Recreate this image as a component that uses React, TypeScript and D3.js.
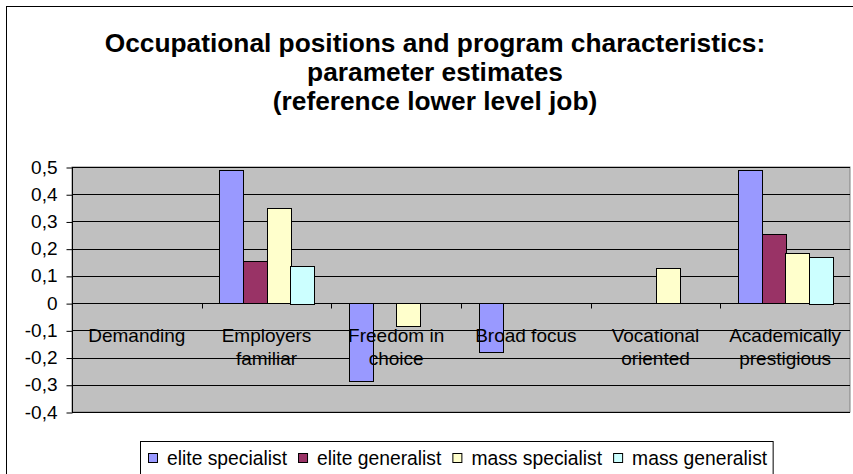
import React, { useEffect, useRef } from 'react'
import * as d3 from 'd3'

const titleLines = [
  'Occupational positions and program characteristics:',
  'parameter estimates',
  '(reference lower level job)',
]

// category labels, "\n" marks where the axis label wraps
const categories = [
  'Demanding',
  'Employers\nfamiliar',
  'Freedom in\nchoice',
  'Broad focus',
  'Vocational\noriented',
  'Academically\nprestigious',
]

const seriesNames = ['elite specialist', 'elite generalist', 'mass specialist', 'mass generalist']
const seriesColors = ['#9999FF', '#993366', '#FFFFCC', '#CCFFFF']

const eliteSpecialist = [0, 0.49, -0.285, -0.18, 0, 0.488]
const eliteGeneralist = [0, 0.156, 0, 0, 0, 0.253]
const massSpecialist = [0, 0.349, -0.086, 0, 0.129, 0.185]
const massGeneralist = [0, 0.138, 0, 0, 0, 0.171]

const yTicks = [-0.4, -0.3, -0.2, -0.1, 0, 0.1, 0.2, 0.3, 0.4, 0.5]
const yTickLabels = ['-0,4', '-0,3', '-0,2', '-0,1', '0', '0,1', '0,2', '0,3', '0,4', '0,5']

const FONT = '"Liberation Sans", Arial, sans-serif'

export default function App() {
  const svgRef = useRef<SVGSVGElement>(null)

  useEffect(() => {
    const w = 853
    const h = 474
    const svg = d3.select(svgRef.current)
    svg.selectAll('*').remove()

    const left = 72
    const right = 850
    const top = 167
    const bottom = 412

    // chart border
    svg.append('rect')
      .attr('x', 6.5).attr('y', 6.5)
      .attr('width', w + 10).attr('height', h + 10)
      .attr('fill', '#fff').attr('stroke', '#000')

    // title
    svg.append('g')
      .selectAll('text')
      .data(titleLines)
      .join('text')
      .attr('x', 435)
      .attr('y', (d, i) => 52 + i * 29)
      .attr('text-anchor', 'middle')
      .attr('font-family', FONT)
      .attr('font-weight', 'bold')
      .attr('font-size', 26.3)
      .text(d => d)

    const x0 = d3.scaleBand<string>()
      .domain(categories)
      .range([left, right])
      .paddingInner(0)
      .paddingOuter(0)
    const x1 = d3.scaleBand<string>()
      .domain(seriesNames)
      .range([0, x0.bandwidth()])
      .paddingInner(0)
      .paddingOuter(0.75)
    const y = d3.scaleLinear()
      .domain([-0.4, 0.5])
      .range([bottom, top])

    // plot area
    svg.append('rect')
      .attr('x', left).attr('y', top)
      .attr('width', right - left).attr('height', bottom - top)
      .attr('fill', '#C0C0C0').attr('stroke', '#808080')

    // gridlines
    svg.append('g')
      .selectAll('line')
      .data(yTicks)
      .join('line')
      .attr('x1', left).attr('x2', right)
      .attr('y1', d => Math.round(y(d)) + 0.5)
      .attr('y2', d => Math.round(y(d)) + 0.5)
      .attr('stroke', '#000')

    // y axis
    const yAxis = d3.axisLeft(y)
      .tickValues(yTicks)
      .tickFormat((d, i) => yTickLabels[i])
      .tickSize(6)
      .tickPadding(9)
    const gy = svg.append('g')
      .attr('transform', `translate(${left + 0.5},0)`)
      .call(yAxis)
    gy.selectAll('.tick line').attr('transform', 'translate(0,0.5)')
    gy.select('.domain').attr('d', `M0,${top}V${bottom}`)
    gy.selectAll('text')
      .attr('font-family', FONT)
      .attr('font-size', 19)
      .attr('fill', '#000')
    gy.selectAll('line,path').attr('stroke', '#000')

    // bars
    const series = [eliteSpecialist, eliteGeneralist, massSpecialist, massGeneralist]
    const bars = series.flatMap((vals, s) =>
      vals.map((v, c) => ({ s, c, v })).filter(d => d.v !== 0))
    svg.append('g')
      .selectAll('rect')
      .data(bars)
      .join('rect')
      .attr('x', d => Math.round(x0(categories[d.c])! + x1(seriesNames[d.s])!) + 0.5)
      .attr('width', Math.round(x1.bandwidth()))
      .attr('y', d => Math.round(y(Math.max(0, d.v))) + 0.5)
      .attr('height', d => Math.round(Math.abs(y(d.v) - y(0))))
      .attr('fill', d => seriesColors[d.s])
      .attr('stroke', '#000')

    // category axis at zero
    const zy = Math.round(y(0)) + 0.5
    svg.append('g')
      .selectAll('line')
      .data(categories.slice(1))
      .join('line')
      .attr('x1', d => Math.round(x0(d)!) + 0.5)
      .attr('x2', d => Math.round(x0(d)!) + 0.5)
      .attr('y1', zy).attr('y2', zy + 5)
      .attr('stroke', '#000')

    const labels = svg.append('g')
      .selectAll('text')
      .data(categories)
      .join('text')
      .attr('text-anchor', 'middle')
      .attr('font-family', FONT)
      .attr('font-size', 19)
      .attr('fill', '#000')
    labels.selectAll('tspan')
      .data(d => d.split('\n').map(t => ({ t, c: d })))
      .join('tspan')
      .attr('x', d => x0(d.c)! + x0.bandwidth() / 2)
      .attr('y', (d, i) => 342 + i * 23)
      .text(d => d.t)

    // legend
    const lg = svg.append('g')
    const box = lg.append('rect')
      .attr('x', 140.5).attr('y', 441.5)
      .attr('height', 40)
      .attr('fill', '#fff').attr('stroke', '#000')
    let cx = 148
    seriesNames.forEach((name, i) => {
      lg.append('rect')
        .attr('x', cx + 0.5).attr('y', 453.5)
        .attr('width', 9).attr('height', 9)
        .attr('fill', seriesColors[i]).attr('stroke', '#000')
      const t = lg.append('text')
        .attr('x', cx + 19)
        .attr('y', 465)
        .attr('font-family', FONT)
        .attr('font-size', 19.3)
        .text(name)
      const tw = (t.node() as SVGTextElement).getComputedTextLength()
      cx = cx + 19 + tw + 11
    })
    box.attr('width', cx - 11 + 6 - 140.5)
  }, [])

  return (
    <svg ref={svgRef} width={853} height={474}
      style={{ position: 'absolute', left: 0, top: 0, background: '#fff' }} />
  )
}
